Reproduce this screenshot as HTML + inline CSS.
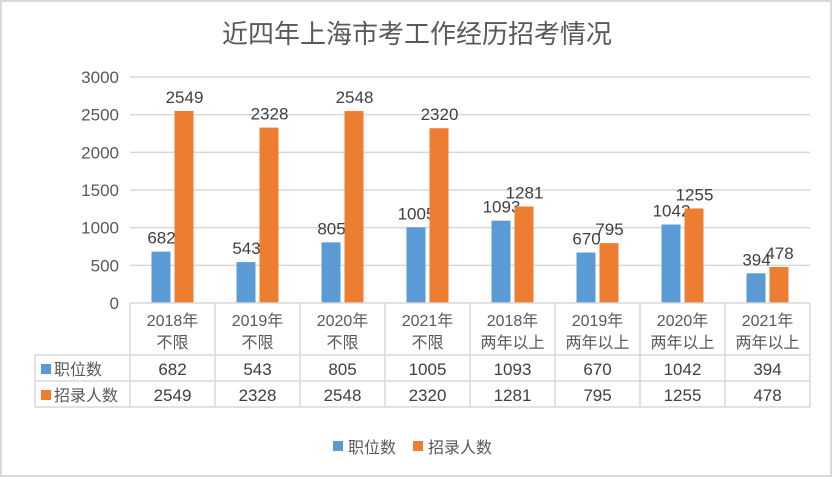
<!DOCTYPE html>
<html><head><meta charset="utf-8">
<style>
body{margin:0;background:#fff;}
svg{display:block;font-family:"Liberation Sans","Noto Sans CJK SC",sans-serif;}
</style></head>
<body>
<svg id="chart" width="834" height="480" viewBox="0 0 834 480">
<rect x="1" y="1" width="830" height="475" fill="#fff" stroke="#d9d9d9" stroke-width="2"/>
<text x="417" y="43" text-anchor="middle" font-size="26" fill="#595959">近四年上海市考工作经历招考情况</text>
<g id="grid"></g><g id="bars"></g><g id="table"></g>
<g>
<rect x="333" y="441" width="10" height="10" fill="#5b9bd5"/>
<text x="348" y="453" font-size="16" fill="#595959">职位数</text>
<rect x="413" y="441" width="10" height="10" fill="#ed7d31"/>
<text x="428" y="453" font-size="16" fill="#595959">招录人数</text>
</g>
</svg>
<script>
const categoriesYear = ["2018年","2019年","2020年","2021年","2018年","2019年","2020年","2021年"];
const categoriesType = ["不限","不限","不限","不限","两年以上","两年以上","两年以上","两年以上"];
const positions = [682,543,805,1005,1093,670,1042,394];
const hires = [2549,2328,2548,2320,1281,795,1255,478];
const yTicks = [0,500,1000,1500,2000,2500,3000];

const NS="http://www.w3.org/2000/svg";
const X0=130,X1=810,Y0=303,Y1=77,YMAX=3000;
const cw=(X1-X0)/categoriesYear.length;
function y(v){return Y0-(v/YMAX)*(Y0-Y1);}
function xc(i){return X0+cw*(i+0.5);}
function mk(tag,attrs,parent,txt){const e=document.createElementNS(NS,tag);for(const k in attrs)e.setAttribute(k,attrs[k]);if(txt!==undefined)e.textContent=txt;parent.appendChild(e);return e;}
const grid=document.getElementById('grid'),bars=document.getElementById('bars'),table=document.getElementById('table');
yTicks.forEach(t=>{
  if(t>0){const l=mk('line',{x1:X0,x2:X1,y1:y(t),y2:y(t),stroke:'#d9d9d9','stroke-width':1.5},grid);
  
  }
  const tx=mk('text',{x:119,y:y(t)+6,'text-anchor':'end','font-size':17,fill:'#595959'},grid,String(t));
  
  
});
positions.forEach((v,i)=>{
  const c=xc(i);
  const b=mk('rect',{x:c-21,y:y(v),width:19,height:Y0-y(v),fill:'#5b9bd5'},bars);
  
  
  const t=mk('text',{x:c-11,y:y(v)-8,'text-anchor':'middle','font-size':17,fill:'#404040'},bars,String(v));
  
  
  const h=hires[i];
  const b2=mk('rect',{x:c+2,y:y(h),width:19,height:Y0-y(h),fill:'#ed7d31'},bars);
  
  
  const t2=mk('text',{x:c+12,y:y(h)-8,'text-anchor':'middle','font-size':17,fill:'#404040'},bars,String(h));
  
  
});
const st={stroke:'#d9d9d9','stroke-width':1.5};
[[X0,303,X1,303],[35,355,X1,355],[35,381,X1,381],[35,407,X1,407],[35,355,35,407]].forEach(a=>{mk('line',Object.assign({x1:a[0],y1:a[1],x2:a[2],y2:a[3]},st),table);});
for(let i=0;i<=categoriesYear.length;i++){const x=X0+cw*i;mk('line',Object.assign({x1:x,y1:303,x2:x,y2:407},st),table);}
categoriesYear.forEach((c,i)=>{
  const t=mk('text',{x:xc(i),y:326,'text-anchor':'middle','font-size':16,fill:'#595959'},table,c);
  
  
  const t2=mk('text',{x:xc(i),y:348,'text-anchor':'middle','font-size':16,fill:'#595959'},table,categoriesType[i]);
  
  
  const a=mk('text',{x:xc(i),y:375,'text-anchor':'middle','font-size':17,fill:'#404040'},table,String(positions[i]));
  
  
  const b=mk('text',{x:xc(i),y:401,'text-anchor':'middle','font-size':17,fill:'#404040'},table,String(hires[i]));
  
  
});
const s1=mk('rect',{x:41,y:364,width:10,height:10,fill:'#5b9bd5'},table);


const l1=mk('text',{x:54,y:375,'font-size':16,fill:'#595959'},table,'职位数');


const s2=mk('rect',{x:41,y:390,width:10,height:10,fill:'#ed7d31'},table);


const l2=mk('text',{x:54,y:401,'font-size':16,fill:'#595959'},table,'招录人数');


</script>
</body></html>
